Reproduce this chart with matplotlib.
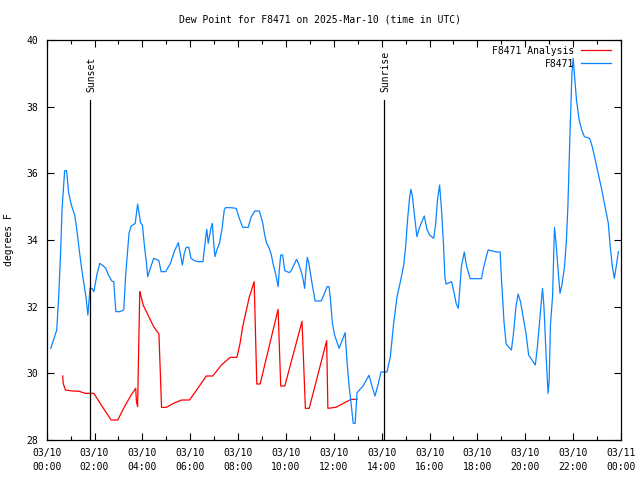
import matplotlib
matplotlib.use("Agg")
import matplotlib.pyplot as plt
from matplotlib.ticker import MultipleLocator

# ---- data (hours since 2025-03-10 00:00 UTC, degrees F) ----
obs_hours = [0.17, 0.42, 0.50, 0.58, 0.64, 0.75, 0.83, 0.92, 1.03, 1.17, 1.25, 1.36, 1.44, 1.53, 1.64,
             1.72, 1.81, 1.89, 1.97, 2.11, 2.22, 2.36, 2.47, 2.58, 2.72, 2.80, 2.89, 3.05, 3.22, 3.30,
             3.44, 3.53, 3.70, 3.80, 3.86, 3.92, 4.00, 4.08, 4.17, 4.22, 4.33, 4.47, 4.69, 4.78, 4.97,
             5.17, 5.33, 5.50, 5.58, 5.67, 5.75, 5.83, 5.94, 6.03, 6.17, 6.33, 6.53, 6.64, 6.69, 6.75,
             6.80, 6.86, 6.92, 6.97, 7.03, 7.11, 7.22, 7.33, 7.42, 7.47, 7.69, 7.92, 8.05, 8.19, 8.42,
             8.55, 8.70, 8.89, 9.03, 9.11, 9.19, 9.30, 9.39, 9.47, 9.58, 9.67, 9.72, 9.78, 9.86, 9.95,
             10.14, 10.22, 10.33, 10.44, 10.53, 10.64, 10.72, 10.78, 10.83, 10.89, 10.95, 11.03, 11.11,
             11.22, 11.47, 11.58, 11.72, 11.80, 11.86, 11.94, 12.03, 12.22, 12.47, 12.55, 12.64, 12.72,
             12.81, 12.89, 12.97, 13.22, 13.47, 13.58, 13.72, 13.86, 13.97, 14.22, 14.36, 14.50, 14.64,
             14.78, 14.92, 15.00, 15.08, 15.17, 15.22, 15.28, 15.39, 15.47, 15.58, 15.78, 15.89, 16.00,
             16.17, 16.25, 16.33, 16.42, 16.50, 16.58, 16.64, 16.69, 16.92, 17.03, 17.11, 17.20, 17.25,
             17.33, 17.45, 17.55, 17.70, 18.17, 18.25, 18.39, 18.45, 18.80, 18.95, 19.00, 19.11, 19.20,
             19.42, 19.50, 19.61, 19.70, 19.80, 19.92, 20.03, 20.14, 20.33, 20.42, 20.50, 20.58, 20.67,
             20.72, 20.78, 20.86, 20.95, 21.00, 21.05, 21.14, 21.22, 21.28, 21.36, 21.45, 21.53, 21.64,
             21.72, 21.78, 21.86, 21.95, 22.00, 22.05, 22.14, 22.25, 22.36, 22.47, 22.69, 22.80, 22.97,
             23.17, 23.36, 23.47, 23.55, 23.64, 23.72, 23.80, 23.89]
obs_dewpoint = [30.75, 31.3, 32.3, 33.6, 34.9, 36.08, 36.08, 35.4, 35.05, 34.75, 34.36, 33.7, 33.25, 32.8, 32.3,
                31.75, 32.55, 32.55, 32.45, 33.0, 33.3, 33.22, 33.15, 32.95, 32.77, 32.75, 31.85, 31.85, 31.9, 32.95,
                34.2, 34.42, 34.5, 35.08, 34.8, 34.52, 34.45, 33.85, 33.3, 32.9, 33.15, 33.45, 33.38, 33.05, 33.05,
                33.3, 33.65, 33.92, 33.6, 33.25, 33.6, 33.78, 33.78, 33.45, 33.38, 33.35, 33.35, 34.05, 34.32, 33.9,
                34.1, 34.35, 34.5, 34.0, 33.5, 33.7, 33.9, 34.35, 34.9, 34.97, 34.97, 34.95, 34.65, 34.38, 34.38,
                34.7, 34.87, 34.87, 34.5, 34.15, 33.9, 33.75, 33.55, 33.25, 32.95, 32.6, 33.1, 33.55, 33.55, 33.08,
                33.02, 33.08, 33.25, 33.42, 33.28, 33.05, 32.8, 32.55, 33.05, 33.48, 33.32, 32.95, 32.6,
                32.17, 32.17, 32.35, 32.6, 32.6, 32.2, 31.5, 31.15, 30.75, 31.22, 30.35, 29.6, 29.1,
                28.5, 28.5, 29.42, 29.62, 29.94, 29.65, 29.32, 29.7, 30.04, 30.04, 30.5, 31.5, 32.3,
                32.75, 33.25, 33.8, 34.6, 35.3, 35.52, 35.32, 34.6, 34.1, 34.38, 34.72, 34.32, 34.15,
                34.05, 34.45, 35.2, 35.65, 34.9, 33.9, 32.9, 32.68, 32.75, 32.4, 32.1, 31.95, 32.4,
                33.2, 33.64, 33.2, 32.84, 32.84, 33.15, 33.55, 33.7, 33.64, 33.64, 32.9, 31.55, 30.88,
                30.7, 31.15, 32.0, 32.38, 32.15, 31.65, 31.2, 30.55, 30.35, 30.25, 30.75, 31.4, 32.1,
                32.55, 32.0, 30.7, 29.4, 29.8, 31.45, 32.3, 34.38, 33.95, 33.2, 32.4, 32.65, 33.2,
                34.0, 35.0, 37.0, 39.0, 39.45, 39.0, 38.2, 37.6, 37.3, 37.1, 37.05, 36.8, 36.25,
                35.6, 34.9, 34.5, 33.8, 33.2, 32.85, 33.2, 33.65]

ana_hours = [0.67, 0.69, 0.78, 1.08, 1.36, 1.61, 1.97, 2.28, 2.69, 2.97, 3.25, 3.53, 3.72, 3.75, 3.80,
             3.82, 3.89, 3.92, 4.03, 4.20, 4.47, 4.69, 4.80, 5.00, 5.30, 5.64, 5.97, 6.36, 6.67, 6.94,
             7.30, 7.67, 7.95, 8.08, 8.19, 8.47, 8.67, 8.78, 8.92, 9.67, 9.78, 9.95, 10.67, 10.81, 10.97,
             11.70, 11.75, 12.08, 12.72, 12.97]
ana_dewpoint = [29.92, 29.7, 29.5, 29.47, 29.46, 29.4, 29.4, 29.05, 28.6, 28.6, 29.0, 29.35, 29.55, 29.15, 29.0,
                29.85, 32.45, 32.38, 32.05, 31.8, 31.4, 31.18, 28.98, 28.98, 29.1, 29.2, 29.2, 29.6, 29.92, 29.92,
                30.25, 30.48, 30.48, 30.9, 31.4, 32.3, 32.75, 29.68, 29.68, 31.92, 29.62, 29.62, 31.56, 28.95, 28.95,
                30.98, 28.95, 28.98, 29.22, 29.22]

sun_event_hours = [1.82, 14.11]
sun_event_labels = ["Sunset", "Sunrise"]

tick_hours = [0, 2, 4, 6, 8, 10, 12, 14, 16, 18, 20, 22, 24]
tick_labels = ["03/10\n00:00", "03/10\n02:00", "03/10\n04:00", "03/10\n06:00", "03/10\n08:00",
               "03/10\n10:00", "03/10\n12:00", "03/10\n14:00", "03/10\n16:00", "03/10\n18:00",
               "03/10\n20:00", "03/10\n22:00", "03/11\n00:00"]

FONT = "DejaVu Sans Mono"
FS = 7.0
plt.rcParams["font.family"] = [FONT]

fig = plt.figure(figsize=(6.4, 4.8), dpi=100)
ax = fig.add_axes([46.7 / 640, 40 / 480, (621 - 46.7) / 640, 400 / 480])

ax.plot(ana_hours, ana_dewpoint, color="#ff0000", lw=0.9, label="F8471 Analysis")
ax.plot(obs_hours, obs_dewpoint, color="#0a84ff", lw=0.9, label="F8471")

for h, lab in zip(sun_event_hours, sun_event_labels):
    ax.plot([h, h], [28, 38.2], color="black", lw=0.9)
    ax.text(h + 0.06, 38.45, lab, rotation=90, ha="center", va="bottom", fontsize=FS, family=FONT)

ax.set_xlim(0, 24)
ax.set_ylim(28, 40)
ax.set_xticks(tick_hours)
ax.set_xticklabels(tick_labels, fontsize=FS, linespacing=1.45)
ax.xaxis.set_minor_locator(MultipleLocator(1))
ax.yaxis.set_major_locator(MultipleLocator(2))
for lbl in ax.get_yticklabels():
    lbl.set_fontsize(FS)
ax.tick_params(axis="both", which="both", direction="in", top=True, right=True, labelsize=FS)
ax.tick_params(axis="both", which="major", length=5, width=0.8, pad=6)
ax.tick_params(axis="both", which="minor", length=3, width=0.8)
for s in ax.spines.values():
    s.set_linewidth(0.9)

ax.set_ylabel("degrees F", fontsize=FS, labelpad=9)

fig.text(0.5, 1 - 19 / 480, "Dew Point for F8471 on 2025-Mar-10 (time in UTC)",
         ha="center", va="center", fontsize=FS, family=FONT)

leg = ax.legend(loc="upper right", frameon=False, fontsize=FS, markerfirst=False,
                handlelength=3.1, handletextpad=0.7, borderaxespad=0.2, labelspacing=0.3,
                borderpad=0.2, bbox_to_anchor=(0.99, 0.995))
for t in leg.get_texts():
    t.set_ha("right")
leg._legend_box.align = "right"

fig.savefig("out.png", dpi=100)
